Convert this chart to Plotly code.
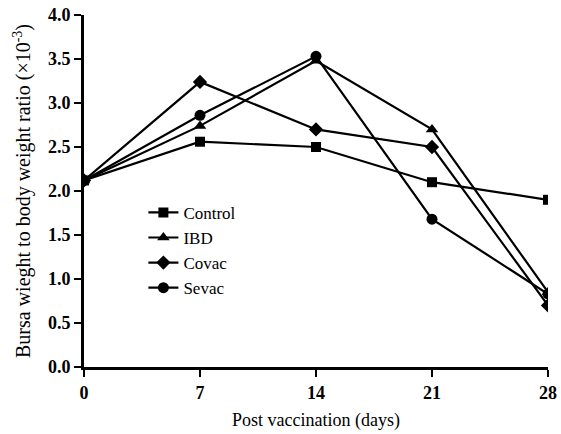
import plotly.graph_objects as go

days = [0, 7, 14, 21, 28]
control = [2.12, 2.56, 2.50, 2.10, 1.90]
ibd = [2.12, 2.74, 3.48, 2.70, 0.85]
covac = [2.12, 3.24, 2.70, 2.50, 0.70]
sevac = [2.12, 2.86, 3.53, 1.68, 0.83]

series = [
    ("Control", control, "square", 10),
    ("IBD", ibd, "triangle-up", 11),
    ("Covac", covac, "diamond", 11),
    ("Sevac", sevac, "circle", 11),
]

fig = go.Figure()
for name, vals, sym, sz in series:
    fig.add_trace(go.Scatter(
        x=days, y=vals, name=name, mode="lines+markers",
        line=dict(color="black", width=2.2),
        marker=dict(symbol=sym, size=sz, color="black"),
    ))

font = "Liberation Serif, Times New Roman, serif"
fig.update_layout(
    width=561, height=434,
    margin=dict(l=84, r=13, t=15, b=67),
    paper_bgcolor="white", plot_bgcolor="white",
    font=dict(family=font, color="black"),
    showlegend=True,
    legend=dict(x=0.128, y=0.489, xanchor="left", yanchor="top",
                font=dict(family=font, size=17, color="black"),
                bgcolor="rgba(0,0,0,0)", itemwidth=30, tracegroupgap=0),
    xaxis=dict(
        range=[0, 28], tickvals=days, ticktext=[str(d) for d in days],
        showline=True, linecolor="black", linewidth=3,
        ticks="outside", ticklen=7, tickwidth=2, tickcolor="black",
        showgrid=False, zeroline=False, automargin=False,
        tickfont=dict(family=font, size=18, color="black", weight="bold"),
        title=dict(text="Post vaccination (days)", font=dict(family=font, size=18), standoff=12),
    ),
    yaxis=dict(
        range=[0, 4.0], tickvals=[0, 0.5, 1.0, 1.5, 2.0, 2.5, 3.0, 3.5, 4.0],
        tickformat=".1f",
        showline=True, linecolor="black", linewidth=3,
        ticks="outside", ticklen=7, tickwidth=2, tickcolor="black",
        showgrid=False, zeroline=False, automargin=False,
        tickfont=dict(family=font, size=18, color="black", weight="bold"),
        title=dict(text="Bursa wieght to body weight ratio (×10<sup>-3</sup>)",
                   font=dict(family=font, size=20), standoff=12),
    ),
)
fig.write_html("out.html", config={"displayModeBar": False},
               post_script="document.body.style.margin='0';")
